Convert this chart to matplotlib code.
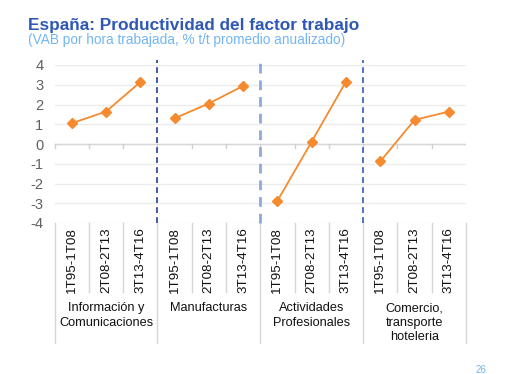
import matplotlib
matplotlib.use("Agg")
import matplotlib.pyplot as plt
import numpy as np

plt.rcParams['font.family'] = ['Liberation Sans', 'DejaVu Sans']

groups = ["Información y\nComunicaciones", "Manufacturas", "Actividades\nProfesionales",
          "Comercio,\ntransporte\nhoteleria"]
periods = ["1T95-1T08", "2T08-2T13", "3T13-4T16"]
values = [
    [1.05, 1.64, 3.13],
    [1.30, 2.05, 2.94],
    [-2.88, 0.12, 3.16],
    [-0.88, 1.22, 1.64],
]
yticks = [4, 3, 2, 1, 0, -1, -2, -3, -4]

W, H = 508, 374
fig = plt.figure(figsize=(W / 100, H / 100), dpi=100)
L, R, T, B = 54.5, 466, 65, 223
ax = fig.add_axes([L / W, 1 - B / H, (R - L) / W, (B - T) / H])

n = len(periods)
ng = len(groups)
ax.set_xlim(-0.5, ng * n - 0.5)
ax.set_ylim(-4, 4)

for yv in yticks:
    ax.axhline(yv, color="#ECECEC", lw=1.0, zorder=0)
ax.axhline(0, color="#D8D8D8", lw=1.0, zorder=0)

for g, vals in enumerate(values):
    xs = np.arange(n) + g * n
    ax.plot(xs, vals, color="#F58A2E", lw=1.3, marker="D", ms=5.5,
            mfc="#F58A2E", mec="#F58A2E", zorder=3)

# ticks on zero line at category boundaries
for k in range(ng * n):
    xb = k - 0.5
    ax.plot([xb, xb], [0, -0.18], color="#D0D0D0", lw=1, zorder=1, clip_on=False)

div_colors = ["#22409A", "#90A8DC", "#2D5BC0"]
div_lw = [1.2, 2.0, 1.2]
for i in range(1, ng):
    xb = i * n - 0.5
    ax.plot([xb, xb], [-4, 4.25], color=div_colors[i - 1], lw=div_lw[i - 1],
            ls=(0, (3.5, 2.5)), zorder=2, clip_on=False)

ax.set_yticks(yticks)
ax.set_yticklabels([str(v) for v in yticks], color="#606060", fontsize=10.5)
ax.tick_params(axis="y", length=0, pad=8)
ax.set_xticks([])
for s in ax.spines.values():
    s.set_visible(False)

trans = ax.get_xaxis_transform()
def yfrac(p):
    return -(p - B) / (B - T)

for k in range(ng * n + 1):
    xb = k - 0.5
    bottom_px = 343 if k % n == 0 else 292
    ax.plot([xb, xb], [0, yfrac(bottom_px)], transform=trans, color="#D6D6D6",
            lw=1.0, clip_on=False, zorder=1)

for g in range(ng):
    for i, p in enumerate(periods):
        ax.text(g * n + i, yfrac(227), p, transform=trans, rotation=90,
                ha="center", va="top", fontsize=9.6, color="#111111")
    ax.text(g * n + 1, yfrac(302), groups[g], transform=trans, ha="center",
            va="top", fontsize=9.2, color="#111111", linespacing=1.3)

fig.text(28 / W, 1 - 30 / H, "España: Productividad del factor trabajo",
         fontsize=12.4, fontweight="bold", color="#2F58B6", ha="left", va="baseline")
fig.text(28 / W, 1 - 44 / H, "(VAB por hora trabajada, % t/t promedio anualizado)",
         fontsize=9.8, color="#72B6F4", ha="left", va="baseline")
fig.text(476 / W, 1 - 373 / H, "26", fontsize=7, color="#72B6F4", ha="left",
         va="baseline")

fig.savefig("out.png", dpi=100)
